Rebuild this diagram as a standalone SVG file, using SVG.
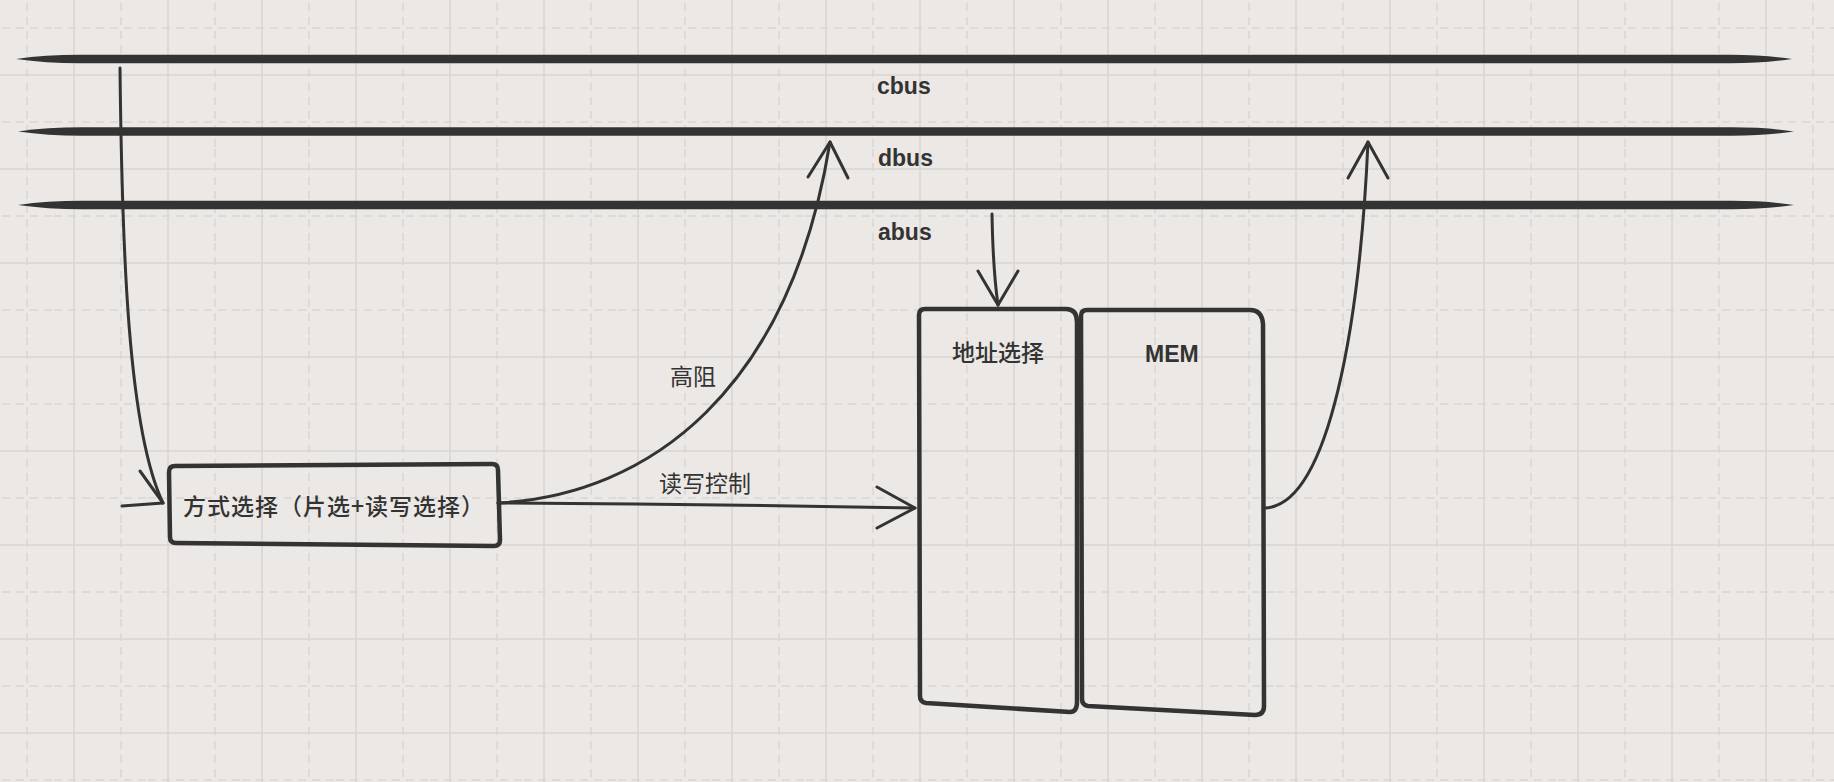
<svg xmlns="http://www.w3.org/2000/svg" width="1834" height="782" viewBox="0 0 1834 782">
  <defs>
    <pattern id="grid" x="54" y="55" width="94" height="94" patternUnits="userSpaceOnUse">
      <line x1="20" y1="0" x2="20" y2="94" class="gs"/>
      <line x1="0" y1="20" x2="94" y2="20" class="gs"/>
      <line x1="67" y1="0" x2="67" y2="94" class="gd"/>
      <line x1="0" y1="67" x2="94" y2="67" class="gd"/>
    </pattern>
    <style>
      .gs { stroke: #d8d5d2; stroke-width: 1.5; }
      .gd { stroke: #d9d6d3; stroke-width: 1.5; stroke-dasharray: 8 6; }
      .bus { fill: #333333; }
      .box { fill: none; stroke: #333333; stroke-width: 4.5; stroke-linejoin: round; }
      .conn { fill: none; stroke: #333333; stroke-width: 3; stroke-linecap: round; stroke-linejoin: round; }
      .lbl { font-family: "Liberation Sans", Arial, sans-serif; font-weight: bold; font-size: 23px; fill: #333333; }
      .cjk { font-family: "Noto Sans CJK SC", "Noto Sans", sans-serif; font-size: 23px; fill: #333333; }
      .cjkb { font-family: "Noto Sans CJK SC", "Noto Sans", sans-serif; font-size: 23px; font-weight: 500; fill: #333333; }
    </style>
  </defs>
  <rect width="1834" height="782" fill="#ebe8e5"/>
  <rect width="1834" height="782" fill="url(#grid)"/>

  <g id="buses">
    <g id="cbus">
      <path class="bus" d="M16,59 Q45,54.8 80,54.8 L1730,54.8 Q1765,54.8 1792,59 Q1765,63.2 1730,63.2 L80,63.2 Q45,63.2 16,59 Z"/>
      <text class="lbl" x="877" y="94">cbus</text>
    </g>
    <g id="dbus">
      <path class="bus" d="M18,131.5 Q47,127.3 82,127.3 L1732,127.3 Q1767,127.3 1794,131.5 Q1767,135.7 1732,135.7 L82,135.7 Q47,135.7 18,131.5 Z"/>
      <text class="lbl" x="878" y="166">dbus</text>
    </g>
    <g id="abus">
      <path class="bus" d="M18,205 Q47,200.8 82,200.8 L1732,200.8 Q1767,200.8 1794,205 Q1767,209.2 1732,209.2 L82,209.2 Q47,209.2 18,205 Z"/>
      <text class="lbl" x="878" y="240">abus</text>
    </g>
  </g>

  <g id="mode-select">
    <path class="box" d="M175,466 L492,464 Q498,464 498,470 L500,540 Q500,546 494,546 L176,543 Q170,543 170,537 L169,472 Q169,466 175,466 Z"/>
    <text class="cjkb" x="183" y="515" letter-spacing="1">方式选择（片选+读写选择）</text>
  </g>

  <g id="addr-select">
    <path class="box" d="M925,309 L1066,309 Q1077,309 1077,322 L1077,702 Q1077,712 1070,712 L926,703 Q920,702 920,696 L919,315 Q919,309 925,309 Z"/>
    <text class="cjkb" x="952" y="361">地址选择</text>
  </g>

  <g id="mem">
    <path class="box" d="M1087,310 L1250,310 Q1262,310 1263,324 L1264,706 Q1264,715 1255,715 L1088,706 Q1082,705 1082,699 L1081,316 Q1081,310 1087,310 Z"/>
    <text class="lbl" x="1145" y="362">MEM</text>
  </g>

  <g id="connectors">
    <path class="conn" d="M120,68 C122,250 128,430 163,503"/>
    <path class="conn" d="M140,471 L163,503 L122,506"/>

    <path class="conn" d="M498,503 C650,495 790,390 830,142"/>
    <path class="conn" d="M808,177 L830,142 L848,178"/>
    <text class="cjk" x="670" y="385">高阻</text>

    <path class="conn" d="M498,503 Q700,504 915,508"/>
    <path class="conn" d="M877,487 L915,508 L877,528"/>
    <text class="cjk" x="659" y="492">读写控制</text>

    <path class="conn" d="M992,214 Q993,270 998,305"/>
    <path class="conn" d="M978,271 L998,305 L1018,271"/>

    <path class="conn" d="M1265,508 C1330,505 1360,320 1368,142"/>
    <path class="conn" d="M1348,178 L1368,142 L1388,178"/>
  </g>
</svg>
